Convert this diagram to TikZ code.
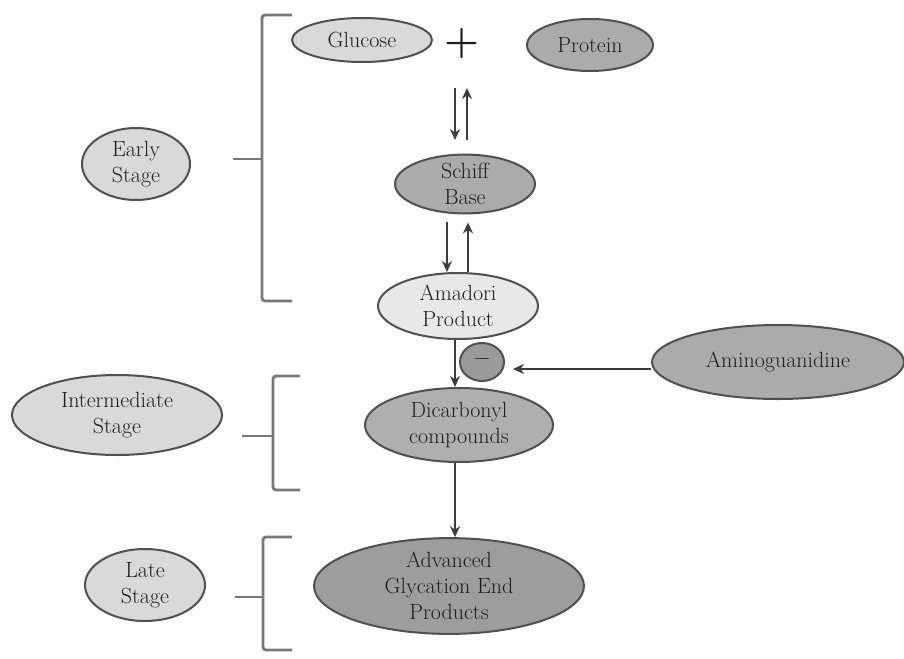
\documentclass[tikz,border=0pt]{standalone}
\usetikzlibrary{shapes.geometric,arrows.meta}
\definecolor{lightfill}{HTML}{D9D9D9}
\definecolor{palefill}{HTML}{E8E8E8}
\definecolor{darkfill}{HTML}{ABABAB}
\definecolor{edgecol}{HTML}{505050}
\definecolor{txtcol}{HTML}{1E1E1E}
\definecolor{arrcol}{HTML}{3C3C3C}
\definecolor{brcol}{HTML}{787878}
\tikzset{
  ell/.style={ellipse, draw=edgecol, line width=2pt, inner sep=0pt, align=center,
    text=txtcol, font=\fontsize{22}{26}\selectfont},
  light/.style={ell, fill=lightfill},
  pale/.style={ell, fill=palefill},
  dark/.style={ell, fill=darkfill},
  arr/.style={draw=arrcol, line width=2.8pt, -{Stealth[length=11pt,width=10pt]}},
  brk/.style={draw=brcol, line width=2.8pt, rounded corners=3pt},
}
\begin{document}
\begin{tikzpicture}[x=1pt,y=-1pt]
\useasboundingbox (0,0) rectangle (904,658);
\fill[white] (0,0) rectangle (904,658);
% nodes
\node[light, minimum width=140, minimum height=44] (glu) at (362,40) {Glucose};
\node[dark, minimum width=126, minimum height=52] (pro) at (590,45) {Protein};
\node[text=txtcol, font=\fontsize{40}{40}\selectfont\bfseries, inner sep=0pt] (plus) at (462,44) {+};
\node[dark, minimum width=140, minimum height=58] (schiff) at (465,184) {Schiff\\Base};
\node[pale, minimum width=160, minimum height=66] (amad) at (458,306) {Amadori\\Product};
\node[dark, fill=darkfill!95!white, minimum width=188, minimum height=74] (dic) at (459,425) {Dicarbonyl\\compounds};
\node[dark, fill=darkfill!90!black, minimum width=44, minimum height=38, font=\fontsize{24}{24}\selectfont\bfseries] (minus) at (482,362) {\textendash};
\node[dark, minimum width=252, minimum height=74] (amino) at (778,362) {Aminoguanidine};
\node[dark, fill=darkfill!92!black, minimum width=270, minimum height=92] (age) at (449,586) {Advanced\\Glycation End\\Products};
\node[light, minimum width=108, minimum height=72] (early) at (136,164) {Early\\Stage};
\node[light, minimum width=210, minimum height=80] (inter) at (117,415) {Intermediate\\Stage};
\node[light, minimum width=120, minimum height=72] (late) at (145,585) {Late\\Stage};
% coordinates for the reversible pair below the plus sign
\coordinate (d1) at (455,88);
\coordinate (d2) at (455,140);
\coordinate (u1) at (467,140);
\coordinate (u2) at (467,88);
\draw[arr] (d1) -- (d2);
\draw[arr] (u1) -- (u2);
% Schiff <-> Amadori
\draw[arr, shorten <=8pt] ([xshift=-18pt]schiff.south) -- ([xshift=-11pt]amad.north);
\draw[arr, shorten >=8pt] ([xshift=10pt]amad.north) -- ([xshift=3pt]schiff.south);
% main chain
\draw[arr] ([xshift=-3pt]amad.south) -- ([xshift=-4pt]dic.north);
\draw[arr] ([xshift=-4pt]dic.south) -- ([xshift=6pt]age.north);
% inhibitor
\draw[arr, shorten >=8pt] ([yshift=-7pt]amino.west) -- ([yshift=-7pt]amino.west -| minus.east);
% brackets
\coordinate (e1) at (292,15);
\coordinate (e2) at (292,301);
\coordinate (em) at (233,159);
\draw[brk] (e1) -- (262,15) -- (262,301) -- (e2);
\draw[brk] (em) -- (262,159);
\coordinate (i1) at (300,376);
\coordinate (i2) at (300,490);
\coordinate (im) at (242,436);
\draw[brk] (i1) -- (273,376) -- (273,490) -- (i2);
\draw[brk] (im) -- (273,436);
\coordinate (l1) at (292,537);
\coordinate (l2) at (292,650);
\coordinate (lm) at (235,597);
\draw[brk] (l1) -- (263,537) -- (263,650) -- (l2);
\draw[brk] (lm) -- (263,597);
\end{tikzpicture}
\end{document}
